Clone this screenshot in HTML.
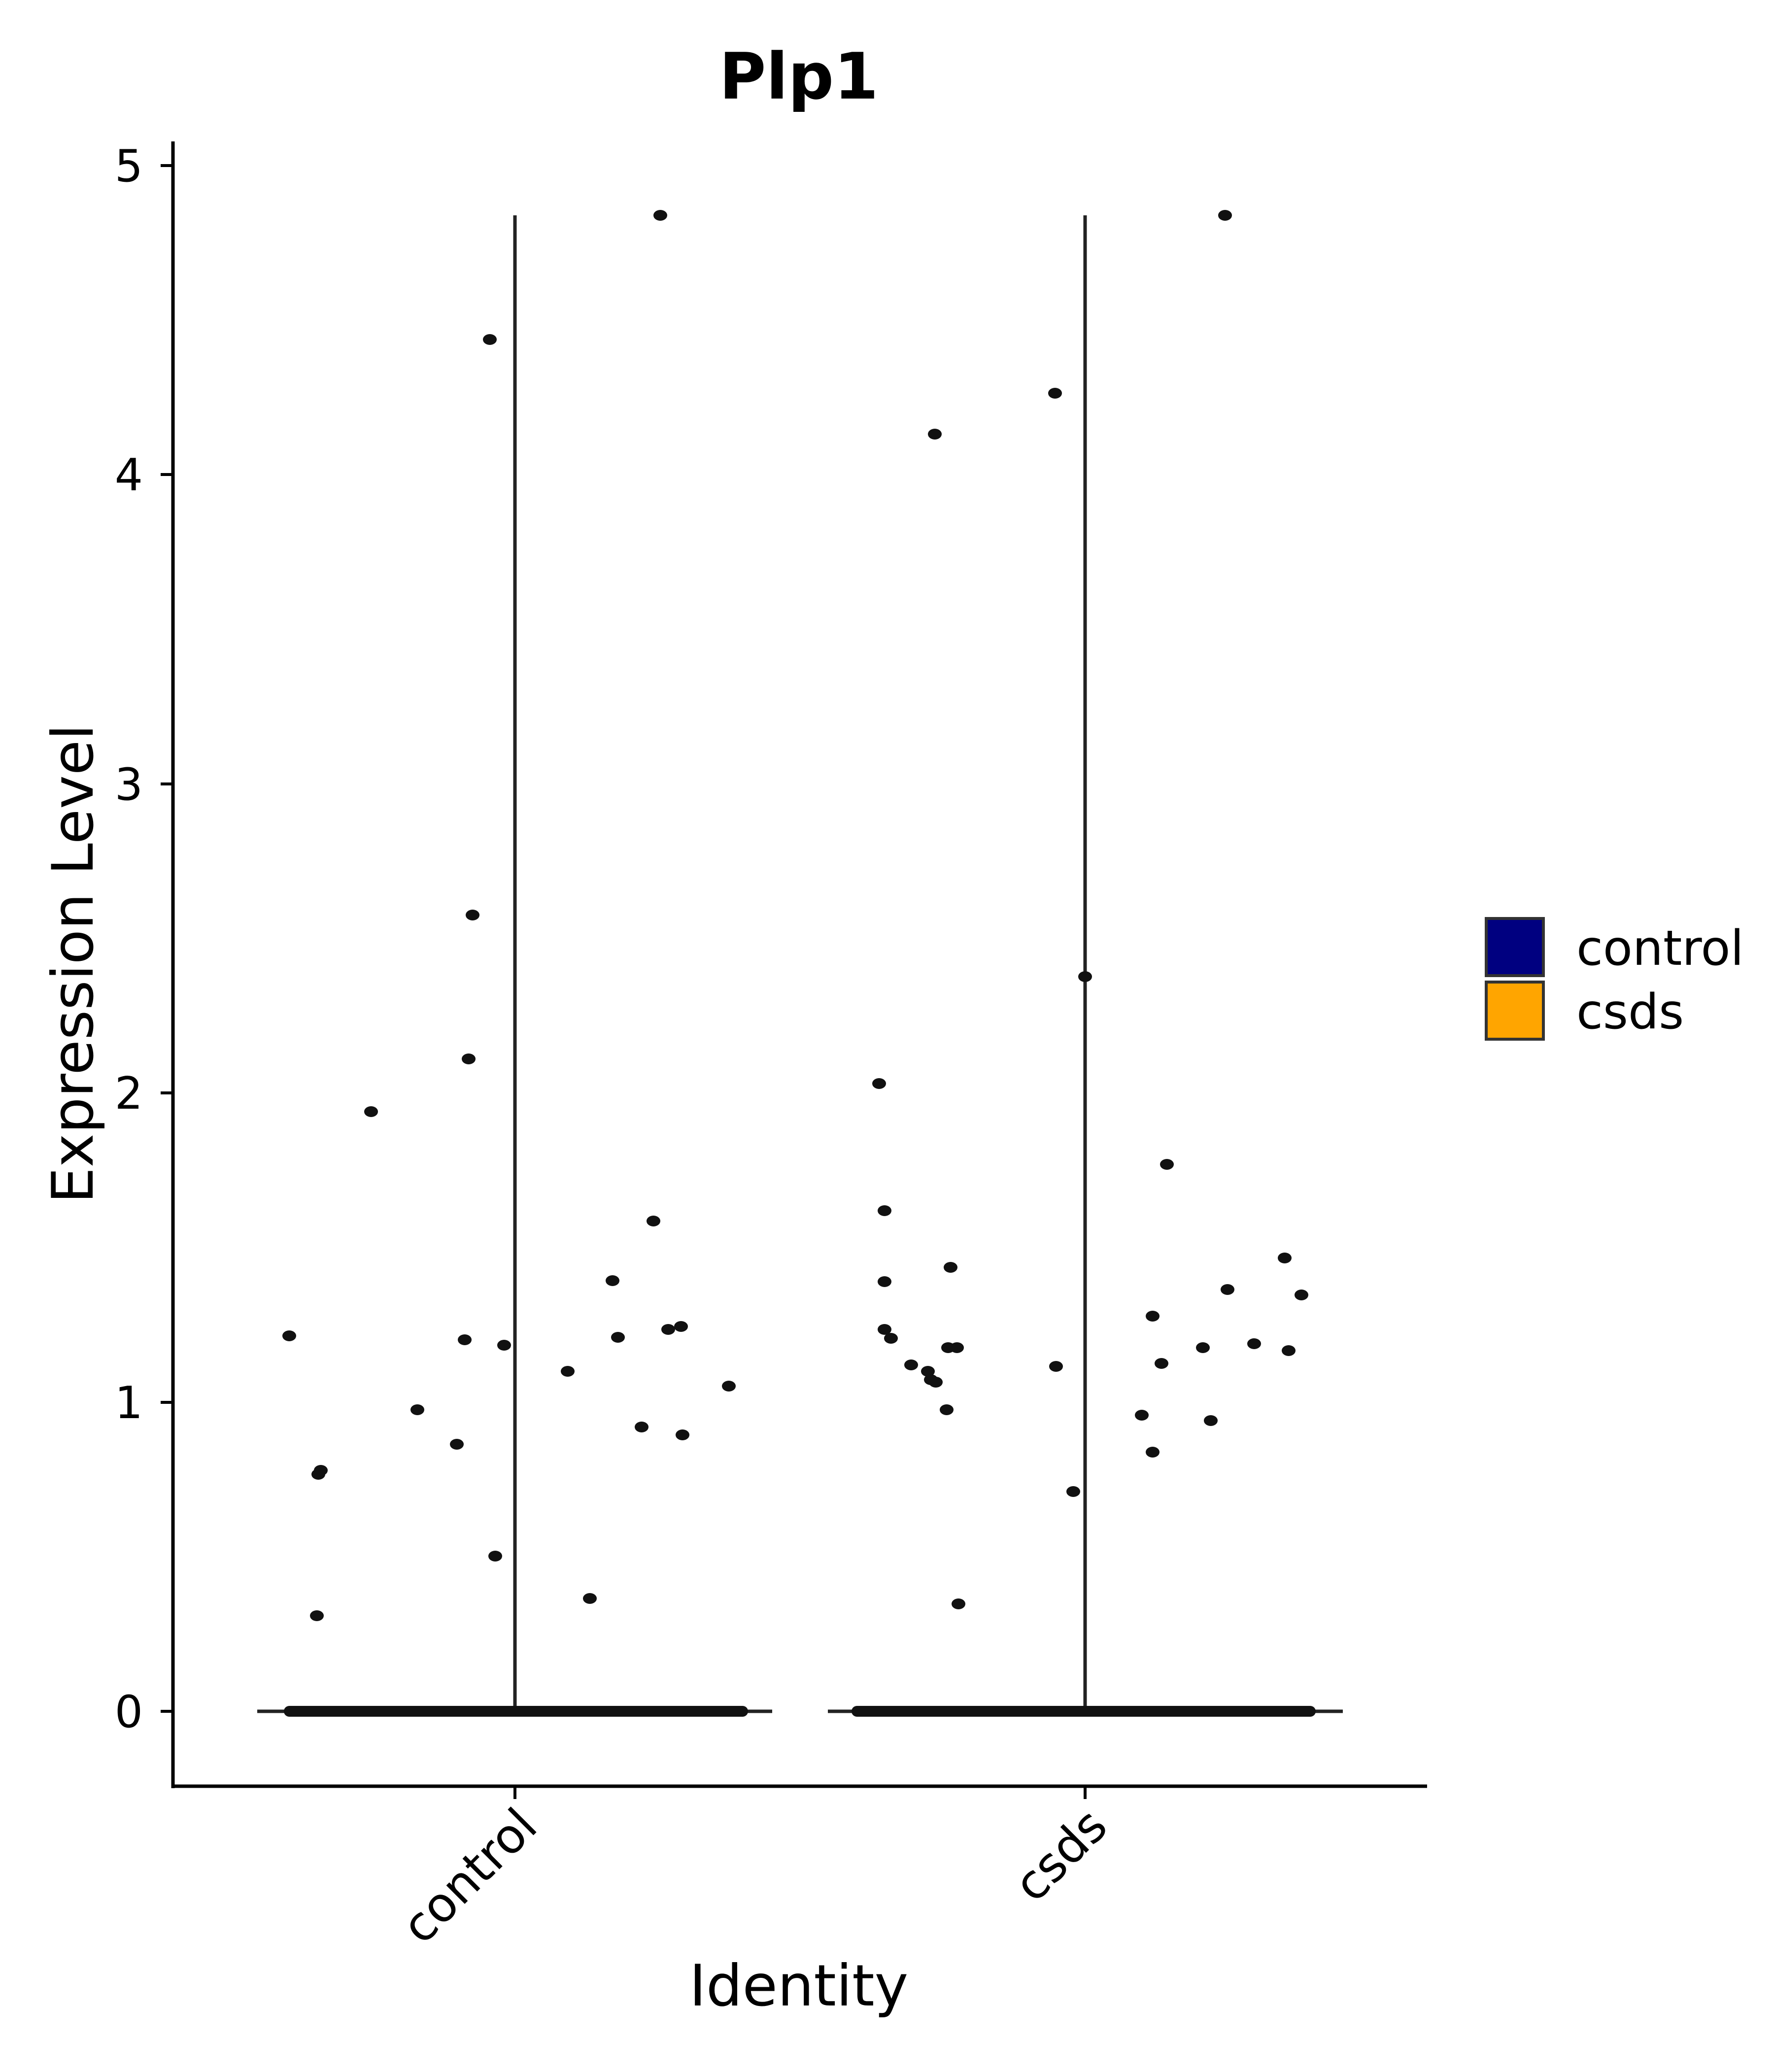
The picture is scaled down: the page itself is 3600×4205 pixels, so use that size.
<!DOCTYPE html>
<html><head><meta charset="utf-8"><style>html,body{margin:0;padding:0;background:#fff}</style></head>
<body>
<svg width="3600" height="4200" viewBox="0 0 3600 4200" xmlns="http://www.w3.org/2000/svg" font-family="DejaVu Sans, Liberation Sans, sans-serif">
<rect width="3600" height="4200" fill="#fff"/>
<text x="1621" y="200" font-size="130" font-weight="bold" text-anchor="middle">Plp1</text>
<!-- axes -->
<line x1="351" y1="287" x2="351" y2="3629" stroke="#000" stroke-width="7"/>
<line x1="348" y1="3625" x2="2896" y2="3625" stroke="#000" stroke-width="7"/>
<g stroke="#000" stroke-width="6">
<line x1="326" y1="3473" x2="351" y2="3473"/>
<line x1="326" y1="2846" x2="351" y2="2846"/>
<line x1="326" y1="2218" x2="351" y2="2218"/>
<line x1="326" y1="1591" x2="351" y2="1591"/>
<line x1="326" y1="963" x2="351" y2="963"/>
<line x1="326" y1="336" x2="351" y2="336"/>
<line x1="1045" y1="3625" x2="1045" y2="3651"/>
<line x1="2202" y1="3625" x2="2202" y2="3651"/>
</g>
<g font-size="90" text-anchor="end">
<text x="290" y="3505">0</text>
<text x="290" y="2878">1</text>
<text x="290" y="2250">2</text>
<text x="290" y="1623">3</text>
<text x="290" y="995">4</text>
<text x="290" y="368">5</text>
</g>
<text transform="translate(1095,3712) rotate(-45)" font-size="97" text-anchor="end">control</text>
<text transform="translate(2252,3712) rotate(-45)" font-size="97" text-anchor="end">csds</text>
<text x="1621" y="4070" font-size="116" text-anchor="middle">Identity</text>
<text transform="translate(188,1956) rotate(-90)" font-size="116" text-anchor="middle">Expression Level</text>
<!-- violins -->
<g stroke="#222" stroke-width="7">
<line x1="522" y1="3473" x2="1567" y2="3473"/>
<line x1="1045" y1="437" x2="1045" y2="3473"/>
<line x1="1680" y1="3473" x2="2725" y2="3473"/>
<line x1="2202" y1="437" x2="2202" y2="3473"/>
</g>
<rect x="576" y="3462" width="942" height="22" rx="11" fill="#111"/>
<rect x="1728" y="3462" width="942" height="22" rx="11" fill="#111"/>
<g fill="#111">
<ellipse cx="587" cy="2711" rx="14" ry="11"/><ellipse cx="646" cy="2992" rx="14" ry="11"/><ellipse cx="651" cy="2984" rx="14" ry="11"/><ellipse cx="643" cy="3279" rx="14" ry="11"/><ellipse cx="753" cy="2256" rx="14" ry="11"/><ellipse cx="847" cy="2861" rx="14" ry="11"/><ellipse cx="927" cy="2931" rx="14" ry="11"/><ellipse cx="943" cy="2719" rx="14" ry="11"/><ellipse cx="951" cy="2149" rx="14" ry="11"/><ellipse cx="959" cy="1857" rx="14" ry="11"/><ellipse cx="994" cy="689" rx="14" ry="11"/><ellipse cx="1005" cy="3158" rx="14" ry="11"/><ellipse cx="1023" cy="2730" rx="14" ry="11"/><ellipse cx="1152" cy="2783" rx="14" ry="11"/><ellipse cx="1197" cy="3244" rx="14" ry="11"/><ellipse cx="1243" cy="2599" rx="14" ry="11"/><ellipse cx="1254" cy="2714" rx="14" ry="11"/><ellipse cx="1302" cy="2896" rx="14" ry="11"/><ellipse cx="1326" cy="2478" rx="14" ry="11"/><ellipse cx="1340" cy="437" rx="14" ry="11"/><ellipse cx="1356" cy="2698" rx="14" ry="11"/><ellipse cx="1382" cy="2692" rx="14" ry="11"/><ellipse cx="1385" cy="2912" rx="14" ry="11"/><ellipse cx="1479" cy="2813" rx="14" ry="11"/>
<ellipse cx="1784" cy="2199" rx="14" ry="11"/><ellipse cx="1795" cy="2457" rx="14" ry="11"/><ellipse cx="1795" cy="2601" rx="14" ry="11"/><ellipse cx="1795" cy="2698" rx="14" ry="11"/><ellipse cx="1808" cy="2716" rx="14" ry="11"/><ellipse cx="1849" cy="2770" rx="14" ry="11"/><ellipse cx="1883" cy="2783" rx="14" ry="11"/><ellipse cx="1889" cy="2800" rx="14" ry="11"/><ellipse cx="1899" cy="2805" rx="14" ry="11"/><ellipse cx="1897" cy="881" rx="14" ry="11"/><ellipse cx="1921" cy="2861" rx="14" ry="11"/><ellipse cx="1929" cy="2572" rx="14" ry="11"/><ellipse cx="1924" cy="2735" rx="14" ry="11"/><ellipse cx="1942" cy="2735" rx="14" ry="11"/><ellipse cx="1945" cy="3255" rx="14" ry="11"/><ellipse cx="2141" cy="798" rx="14" ry="11"/><ellipse cx="2143" cy="2773" rx="14" ry="11"/><ellipse cx="2178" cy="3027" rx="14" ry="11"/><ellipse cx="2202" cy="1982" rx="14" ry="11"/><ellipse cx="2317" cy="2872" rx="14" ry="11"/><ellipse cx="2339" cy="2947" rx="14" ry="11"/><ellipse cx="2339" cy="2671" rx="14" ry="11"/><ellipse cx="2357" cy="2767" rx="14" ry="11"/><ellipse cx="2368" cy="2363" rx="14" ry="11"/><ellipse cx="2441" cy="2735" rx="14" ry="11"/><ellipse cx="2457" cy="2883" rx="14" ry="11"/><ellipse cx="2486" cy="437" rx="14" ry="11"/><ellipse cx="2491" cy="2617" rx="14" ry="11"/><ellipse cx="2545" cy="2727" rx="14" ry="11"/><ellipse cx="2607" cy="2553" rx="14" ry="11"/><ellipse cx="2615" cy="2741" rx="14" ry="11"/><ellipse cx="2641" cy="2628" rx="14" ry="11"/>
</g>
<!-- legend -->
<rect x="3016" y="1864" width="116" height="116" fill="#000080" stroke="#333" stroke-width="6"/>
<rect x="3016" y="1993" width="116" height="116" fill="#FFA500" stroke="#333" stroke-width="6"/>
<text x="3199" y="1958" font-size="98">control</text>
<text x="3199" y="2087" font-size="98">csds</text>
</svg>
</body></html>
